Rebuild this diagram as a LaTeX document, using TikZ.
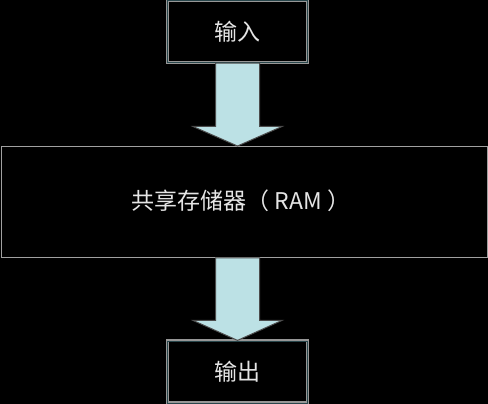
\documentclass[tikz,border=0pt]{standalone}
\usepackage{fontspec}
\newfontfamily\cjk{Noto Sans CJK SC}
\usetikzlibrary{calc}
\definecolor{arrowfill}{RGB}{188,225,229}
\definecolor{boxline}{RGB}{150,150,150}
\definecolor{inner}{RGB}{40,70,75}
\tikzset{
  box/.style={draw=boxline, line width=1.2pt, fill=black, text=white!90!black,
    font=\cjk\fontsize{23}{27}\selectfont, inner sep=0pt, minimum height=62pt,
    double=inner, double distance=0.6pt},
  bigarrow/.style={fill=arrowfill, draw=gray!60!black, line width=1pt, line join=miter}
}
\begin{document}
\begin{tikzpicture}[x=1pt,y=1pt]
\fill[black] (0,0) rectangle (488,404);
\useasboundingbox (0,0) rectangle (488,404);
\node[box, minimum width=140pt] (in) at (237.5,372.5) {输入};
\node[box, minimum width=486pt, minimum height=111pt, draw=boxline!90!white, double=none, line width=1pt] (ram) at (244,202) {};
\node[text=white!90!black, font=\cjk\fontsize{23}{27}\selectfont, inner sep=0pt] (ramlabel) at (241,203) {共享存储器（ RAM ）};
\node[box, minimum width=140pt] (out) at (237.5,32) {输出};
% arrow in -> ram
\coordinate (t1) at (in.south |- ram.north);
\draw[bigarrow] ($(in.south)+(-22,0)$) -- ($(t1)+(-22,19.5)$) -- ($(t1)+(-44.5,19.5)$) -- (t1)
  -- ($(t1)+(44.5,19.5)$) -- ($(t1)+(22,19.5)$) -- ($(in.south)+(22,0)$) -- cycle;
% arrow ram -> out
\coordinate (s2) at (ram.south -| out.north);
\coordinate (t2) at (out.north);
\draw[bigarrow] ($(s2)+(-22,0)$) -- ($(t2)+(-22,20)$) -- ($(t2)+(-44.5,20)$) -- (t2)
  -- ($(t2)+(44.5,20)$) -- ($(t2)+(22,20)$) -- ($(s2)+(22,0)$) -- cycle;
\end{tikzpicture}
\end{document}
